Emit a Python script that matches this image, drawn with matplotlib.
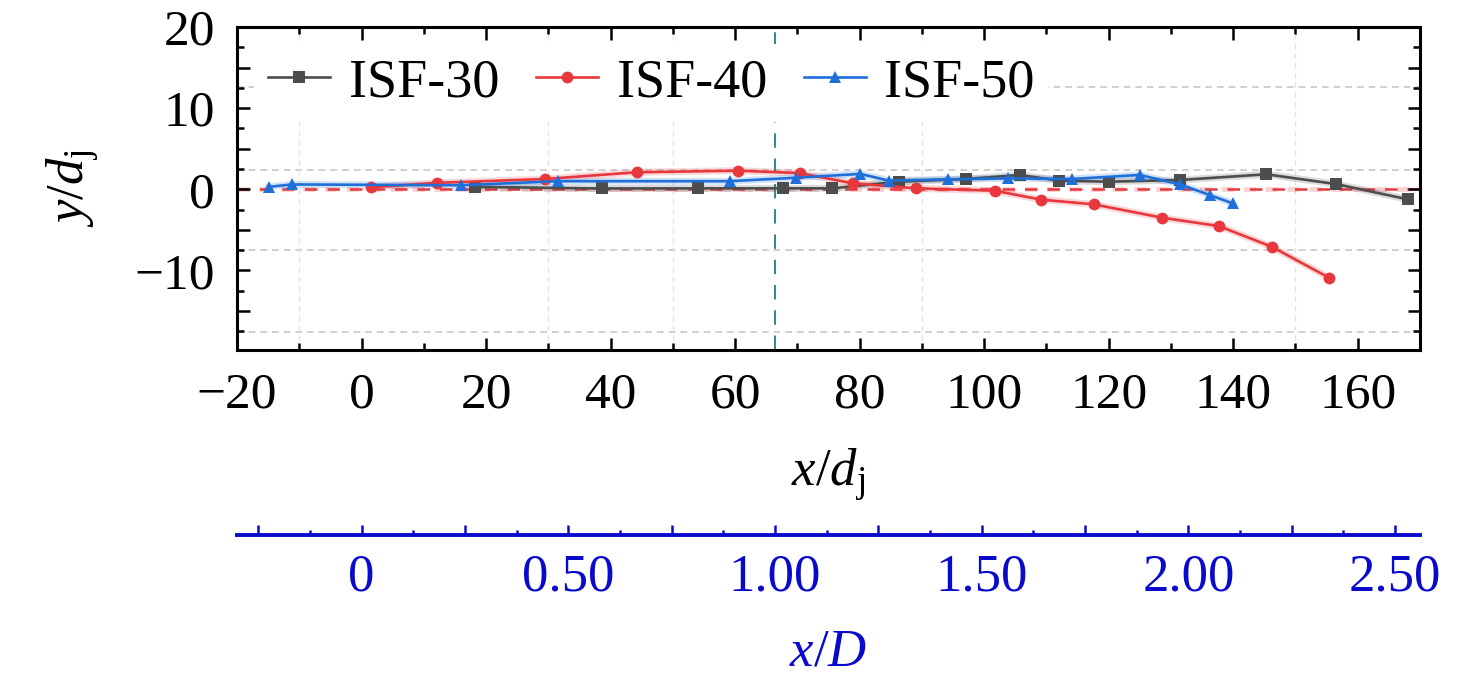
import matplotlib
matplotlib.use("Agg")
import matplotlib.pyplot as plt
from matplotlib.ticker import MultipleLocator, FuncFormatter

plt.rcParams['font.family'] = ['Liberation Serif', 'DejaVu Serif']
plt.rcParams['mathtext.fontset'] = 'custom'
plt.rcParams['mathtext.rm'] = 'Liberation Serif'
plt.rcParams['mathtext.it'] = 'Liberation Serif:italic'
plt.rcParams['mathtext.bf'] = 'Liberation Serif:bold'

# ---------------- data ----------------
isf30_x = [18.3, 38.6, 54.0, 67.7, 75.6, 86.3, 97.1, 105.7, 112.1, 120.0, 131.5, 145.3, 156.5, 168.0]
isf30_y = [0.3, 0.1, 0.12, 0.12, 0.12, 0.94, 1.27, 1.77, 1.06, 0.94, 1.15, 1.85, 0.65, -1.23]

isf40_x = [1.6, 12.1, 29.5, 44.2, 60.5, 70.4, 78.9, 89.1, 101.7, 109.2, 117.6, 128.6, 137.7, 146.2, 155.4]
isf40_y = [0.25, 0.8, 1.27, 2.1, 2.3, 2.0, 0.74, 0.12, -0.17, -1.28, -1.85, -3.5, -4.53, -7.08, -10.9]

isf50_x = [-14.9, -11.2, 16.0, 31.6, 59.2, 69.8, 80.1, 84.7, 94.2, 103.8, 114.1, 125.0, 131.5, 136.2, 139.9]
isf50_y = [0.3, 0.6, 0.5, 1.0, 1.0, 1.43, 1.9, 1.07, 1.23, 1.35, 1.27, 1.77, 0.6, -0.7, -1.73]

series_labels = ['ISF-30', 'ISF-40', 'ISF-50']
D_over_dj = 66.4          # x/D = (x/d_j) / D_over_dj
ref_x_over_D = 1.0        # vertical reference line at x/D = 1

# faint background grid of the digitised figure
bg_grid_y = [12.6, 2.4, -7.5, -17.6]
bg_grid_x = [-10, 30, 50, 90, 150]

xlim = (-20, 170)
ylim = (-19.8, 20)

# ---------------- figure ----------------
W, H, DPI = 1476, 695, 100
fig = plt.figure(figsize=(W / DPI, H / DPI), dpi=DPI)
ax = fig.add_axes([237 / W, 1 - 350 / H, (1420 - 237) / W, (350 - 27) / H])

for gy in bg_grid_y:
    ax.axhline(gy, color='#c8c8c8', lw=1.2, ls=(0, (4, 3)), zorder=0)
for gx in bg_grid_x:
    ax.axvline(gx, color='#e4e4e4', lw=1.0, ls=(0, (4, 3)), zorder=0)

ax.axhline(0, color='#f08080', lw=3.5, ls=(0, (2.5, 2)), alpha=0.35, zorder=1)
ax.axhline(0, color='#e8383d', lw=1.8, ls=(0, (5, 4)), zorder=1)
ax.axvline(ref_x_over_D * D_over_dj, color='#1e8080', lw=1.3, ls=(0, (8, 6)), zorder=1)

colors = ['#4d4d4d', '#e8383d', '#1f6fd8']
markers = ['s', 'o', '^']
msizes = [8, 8.5, 8.5]
data = [(isf30_x, isf30_y), (isf40_x, isf40_y), (isf50_x, isf50_y)]
handles = []
for (xs, ys), c, m, ms, lab in zip(data, colors, markers, msizes, series_labels):
    ax.plot(xs, ys, color=c, lw=5, alpha=0.2, zorder=2, solid_capstyle='round')
    h, = ax.plot(xs, ys, color=c, lw=1.9, marker=m, markersize=ms, markeredgewidth=0,
                 label=lab, zorder=3)
    handles.append(h)

ax.set_xlim(*xlim)
ax.set_ylim(*ylim)
ax.xaxis.set_major_locator(MultipleLocator(20))
ax.xaxis.set_minor_locator(MultipleLocator(10))
ax.yaxis.set_major_locator(MultipleLocator(5))
ax.yaxis.set_minor_locator(MultipleLocator(2.5))

def yfmt(v, pos):
    if abs(v % 10) > 1e-6 and abs(v % 10 - 10) > 1e-6:
        return ''
    if v < -15:
        return ''
    return f'{int(round(v))}'.replace('-', '\u2212')

def xfmt(v, pos):
    return f'{int(round(v))}'.replace('-', '\u2212')

ax.yaxis.set_major_formatter(FuncFormatter(yfmt))
ax.xaxis.set_major_formatter(FuncFormatter(xfmt))

ax.tick_params(which='both', direction='in', top=True, right=True, width=1.8,
               labelsize=37, colors='black')
ax.tick_params(which='major', length=9)
ax.tick_params(which='minor', length=5)
ax.tick_params(axis='x', which='major', pad=16)
ax.tick_params(axis='y', which='major', pad=16)
for sp in ax.spines.values():
    sp.set_linewidth(2.2)

ax.set_xlabel(r'$x/d_\mathrm{j}$', fontsize=38, labelpad=20)
ax.set_ylabel(r'$y/d_\mathrm{j}$', fontsize=38, labelpad=24)

leg = ax.legend(handles=handles, loc='upper left', bbox_to_anchor=(0.0, 1.0), ncol=3,
                fontsize=39, frameon=True, framealpha=1.0, edgecolor='none',
                facecolor='white', handlelength=1.15, handletextpad=0.34,
                columnspacing=0.68, borderpad=0.25, borderaxespad=0.32)
leg.set_zorder(1.5)

# secondary x axis (x/D)
blue = '#0a0acd'
sec = ax.secondary_xaxis(-(535 - 350) / (350 - 27),
                         functions=(lambda x: x / D_over_dj, lambda x: x * D_over_dj))
sec.xaxis.set_major_locator(MultipleLocator(0.25))
sec.xaxis.set_minor_locator(MultipleLocator(0.125))

def dfmt(v, pos):
    if abs(v) < 1e-9:
        return '0'
    if abs((v / 0.5) - round(v / 0.5)) > 1e-6:
        return ''
    return f'{v:.2f}'

sec.xaxis.set_major_formatter(FuncFormatter(dfmt))
sec.tick_params(which='both', direction='in', colors=blue, width=1.8, labelsize=38)
sec.tick_params(which='major', length=7, pad=13)
sec.tick_params(which='minor', length=3.5)
sec.spines['bottom'].set_color(blue)
sec.spines['bottom'].set_linewidth(2.8)
sec.set_xlabel(r'$x/D$', fontsize=38, color=blue, labelpad=20)

fig.savefig('out.png', dpi=DPI)
